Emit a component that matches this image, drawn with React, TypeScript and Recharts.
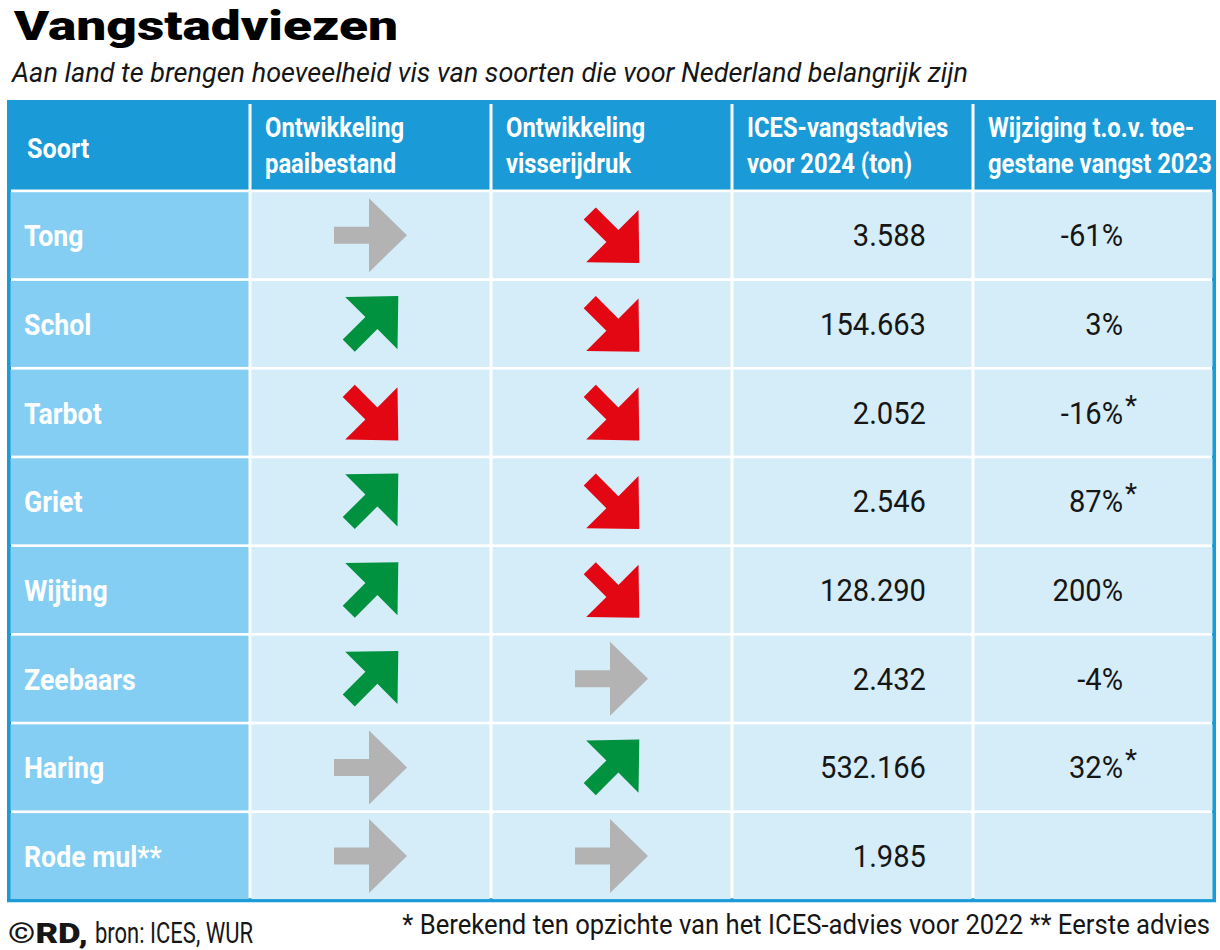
import React from 'react';
import { BarChart, Bar, XAxis, YAxis, ReferenceArea } from 'recharts';

// ---- data ----
const species = ['Tong', 'Schol', 'Tarbot', 'Griet', 'Wijting', 'Zeebaars', 'Haring', 'Rode mul**'];
const paaibestand = ['flat', 'up', 'down', 'up', 'up', 'up', 'flat', 'flat'];
const visserijdruk = ['down', 'down', 'down', 'down', 'down', 'flat', 'up', 'flat'];
const advies = [3588, 154663, 2052, 2546, 128290, 2432, 532166, 1985];
const wijziging: (number | null)[] = [-61, 3, -16, 87, 200, -4, 32, null];
const wijzigingStar = [false, false, true, true, false, false, true, false];
const headers = [
  ['Soort'],
  ['Ontwikkeling', 'paaibestand'],
  ['Ontwikkeling', 'visserijdruk'],
  ['ICES-vangstadvies', 'voor 2024 (ton)'],
  ['Wijziging t.o.v. toe-', 'gestane vangst 2023'],
];
const title = 'Vangstadviezen';
const subtitle = 'Aan land te brengen hoeveelheid vis van soorten die voor Nederland belangrijk zijn';
const sourceBold = '©RD,';
const sourceText = 'bron: ICES, WUR';
const footnote = '* Berekend ten opzichte van het ICES-advies voor 2022 ** Eerste advies';

const COLS = ['c1', 'c2', 'c3', 'c4', 'c5'];
const rows = [
  { name: 'header', ri: -1, c1: 1, c2: 1, c3: 1, c4: 1, c5: 1 },
  ...species.map((s, i) => ({ name: s, ri: i, c1: 1, c2: 1, c3: 1, c4: 1, c5: 1 })),
];

// ---- styles ----
const BLUE = '#1a9ad7';
const FIRST = '#84cef3';
const PALE = '#d5ecf9';
const ARROW: Record<string, string> = { flat: '#b3b3b3', up: '#00923f', down: '#e30613' };
const FONT = 'Roboto, "Open Sans", sans-serif';
const INK = '#161616';

const fmt = (n: number) => String(n).replace(/\B(?=(\d{3})+(?!\d))/g, '.');

function arrowPoints(dir: string, cx: number, cy: number) {
  const S = dir === 'flat' ? 35 : 32;
  const base = [[38, 0], [0, 37], [0, 8.5], [-S, 8.5], [-S, -8.5], [0, -8.5], [0, -37]];
  const a = dir === 'up' ? -Math.PI / 4 : dir === 'down' ? Math.PI / 4 : 0;
  const pts = base.map(([u, v]) => [u * Math.cos(a) - v * Math.sin(a), u * Math.sin(a) + v * Math.cos(a)]);
  const xs = pts.map((p) => p[0]);
  const ys = pts.map((p) => p[1]);
  const mx = (Math.min(...xs) + Math.max(...xs)) / 2;
  const my = (Math.min(...ys) + Math.max(...ys)) / 2;
  return pts.map(([x, y]) => `${(x - mx + cx).toFixed(1)},${(y - my + cy).toFixed(1)}`).join(' ');
}

function SText({ x, y, sx = 0.93, anchor = 'start', size, weight = 400, fill = INK, children }: any) {
  return (
    <g transform={`translate(${x},${y}) scale(${sx},1)`}>
      <text x={0} y={0} textAnchor={anchor} fontFamily={FONT} fontSize={size} fontWeight={weight} fill={fill}>
        {children}
      </text>
    </g>
  );
}

const makeShape = (k: number) => (props: any) => {
  const { x, y, width, height, payload } = props;
  const ri = payload.ri;
  const isHeader = ri < 0;
  const fill = isHeader ? BLUE : k === 0 ? FIRST : PALE;
  const cx = x + width / 2;
  const cy = y + height / 2;
  let content: React.ReactNode = null;
  if (isHeader) {
    const lines = headers[k];
    if (lines.length === 1) {
      content = <SText x={x + 18} y={cy + 11} size={28} weight={700} fill="#fff" sx={0.9}>{lines[0]}</SText>;
    } else {
      content = (
        <g>
          <SText x={x + 15} y={y + 35} size={28} weight={700} fill="#fff" sx={0.85}>{lines[0]}</SText>
          <SText x={x + 15} y={y + 71} size={28} weight={700} fill="#fff" sx={0.85}>{lines[1]}</SText>
        </g>
      );
    }
  } else if (k === 0) {
    content = <SText x={x + 15} y={cy + 11} size={29} weight={700} fill="#fff" sx={0.92}>{species[ri]}</SText>;
  } else if (k === 1 || k === 2) {
    const dir = k === 1 ? paaibestand[ri] : visserijdruk[ri];
    content = <polygon points={arrowPoints(dir, cx, cy)} fill={ARROW[dir]} />;
  } else if (k === 3) {
    content = <SText x={x + width - 47} y={cy + 11} size={31} anchor="end" sx={0.94}>{fmt(advies[ri])}</SText>;
  } else {
    const v = wijziging[ri];
    if (v !== null) {
      content = (
        <g>
          <SText x={x + width - 91} y={cy + 11} size={31} anchor="end" sx={0.94}>{`${v}%`}</SText>
          {wijzigingStar[ri] ? (
            <SText x={x + width - 89} y={cy + 2} size={28} sx={1}>*</SText>
          ) : null}
        </g>
      );
    }
  }
  return (
    <g>
      <rect x={x + 1.5} y={y + 1.5} width={Math.max(0, width - 3)} height={Math.max(0, height - 3)} fill={fill} />
      {content}
    </g>
  );
};

export default function App() {
  return (
    <div style={{ position: 'absolute', left: 0, top: 0, width: 1220, height: 950, background: '#fff' }}>
      <svg width={1220} height={950} style={{ position: 'absolute', left: 0, top: 0 }}>
        <text x={14} y={40} fontFamily={FONT} fontSize={40} fontWeight={900} fill="#000" textLength={384} lengthAdjust="spacingAndGlyphs">
          {title}
        </text>
        <text x={12} y={82} fontFamily={FONT} fontSize={27} fontStyle="italic" fill={INK} textLength={956} lengthAdjust="spacingAndGlyphs">
          {subtitle}
        </text>
        <text x={8} y={943} fontFamily={FONT} fontSize={28} fontWeight={900} fill={INK} textLength={80} lengthAdjust="spacingAndGlyphs">
          {sourceBold}
        </text>
        <text x={95} y={943} fontFamily={FONT} fontSize={29} fill={INK} textLength={158} lengthAdjust="spacingAndGlyphs">
          {sourceText}
        </text>
        <g transform="translate(1210,934) scale(0.95,1)">
          <text x={0} y={0} textAnchor="end" fontFamily={FONT} fontSize={27} fill={INK}>
            {footnote}
          </text>
        </g>
      </svg>
      <div style={{ position: 'absolute', left: 0, top: 0 }}>
        <BarChart
          width={1220}
          height={950}
          data={rows}
          layout="vertical"
          margin={{ top: 102, right: 6, bottom: 49.7, left: 9 }}
          barCategoryGap={0}
          barGap={0}
        >
          <XAxis type="number" domain={[0, 5]} hide />
          <YAxis type="category" dataKey="name" hide />
          <ReferenceArea x1={0} x2={5} fill="none" stroke={BLUE} strokeWidth={4} ifOverflow="visible" />
          {COLS.map((c, k) => (
            <Bar key={c} dataKey={c} stackId="t" isAnimationActive={false} shape={makeShape(k)} />
          ))}
        </BarChart>
      </div>
    </div>
  );
}
